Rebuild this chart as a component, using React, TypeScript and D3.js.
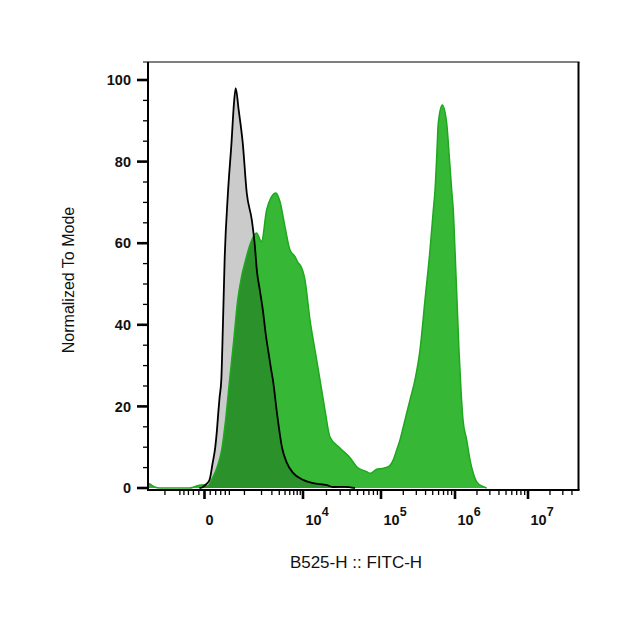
import React from "react";
import * as d3 from "d3";

// ---------- data (fluorescence intensity, % of mode) ----------
const controlX = [-88, -35, 35, 88, 142, 192, 223, 250, 277, 312, 347, 385, 464, 557, 629, 681, 780, 930, 1102, 1355, 1530, 1659, 1870, 2107, 2371, 2670, 2888, 3124, 3654, 4437, 5391, 6817, 10000, 13430, 20300, 24250, 34550, 46400];
const controlY = [0, 0.2, 1, 2, 6, 10, 14, 18.4, 22.3, 26.5, 40, 55.9, 72.3, 84.6, 94.4, 98, 92.6, 84.6, 72.3, 65.7, 59.5, 53.4, 48.5, 43.6, 37.5, 32.6, 29.4, 26.5, 18.4, 10, 6.1, 3.7, 2, 1.2, 0.7, 0.25, 0.3, 0];

const stainedX = [-2000, -1870, -1530, -1248, -277, -179, -88, 0, 52, 142, 236, 319, 408, 507, 619, 746, 890, 1056, 1248, 1355, 1639, 2001, 2437, 2888, 3511, 4105, 4990, 6060, 7360, 8360, 8930, 10600, 12290, 14250, 16520, 19150, 22180, 29760, 40070, 48800, 65550, 72300, 88100, 102200, 125500, 146500, 162800, 180600, 211000, 246500, 287800, 336300, 393300, 459200, 509300, 537000, 566200, 594300, 673200, 772600, 837500, 902000, 948000, 1000000, 1065000, 1134000, 1208000, 1287000, 1445000, 1605000, 1781000, 1981000, 2441000, 2716000];
const stainedY = [1.2, 1.0, 0.25, 0, 0, 0.3, 0.7, 0.8, 0.5, 2.5, 5.4, 9.3, 16.7, 26.5, 36, 46, 52, 56, 59.5, 60.8, 62.5, 60.4, 68.1, 71.1, 72.3, 70.2, 64.0, 58.3, 56.7, 55.1, 54.7, 51, 41.2, 33.8, 26.5, 19.1, 12.5, 9.8, 7.4, 5.2, 4.0, 3.6, 4.6, 4.8, 5.2, 6.9, 9.3, 11.8, 16.7, 21.6, 26.5, 33.8, 46.1, 58.3, 68.1, 73.0, 81.2, 89.4, 93.9, 89.4, 81.2, 73.0, 68.1, 58.3, 46.1, 33.8, 24.0, 16.7, 11.8, 6.9, 3.6, 1.5, 0.3, 0];

const xMajorTicks = [0, 1e4, 1e5, 1e6, 1e7];
const xMajorExp = ["0", "4", "5", "6", "7"];
const xMinorTicks = [
  -1000, -500, -400, -300, -200, -100, 100, 200, 300, 400, 500,
  1000, 2000, 3000, 4000, 5000, 6000, 7000, 8000, 9000,
  2e4, 3e4, 4e4, 5e4, 6e4, 7e4, 8e4, 9e4,
  2e5, 3e5, 4e5, 5e5, 6e5, 7e5, 8e5, 9e5,
  2e6, 3e6, 4e6, 5e6, 6e6, 7e6, 8e6, 9e6,
  2e7, 3e7, 4e7,
];
const yMajorTicks = [0, 20, 40, 60, 80, 100];
const yMinorTicks = [5, 10, 15, 25, 30, 35, 45, 50, 55, 65, 70, 75, 85, 90, 95];

const xAxisTitle = "B525-H :: FITC-H";
const yAxisTitle = "Normalized To Mode";

// ---------- layout ----------
const W = 640;
const H = 630;
const left = 148;
const right = 578.5;
const top = 62;
const bottom = 490;
const FONT = "'Liberation Sans', Arial, Helvetica, sans-serif";

// biexponential-like display transform, anchored at decades
const W_LIN = 450;
const tf = (v: number) => Math.asinh(v / W_LIN);
const xBase = d3
  .scaleLinear()
  .domain([-2000, 0, 1e4, 1e5, 1e6, 1e7].map(tf))
  .range([left, 204.5, 303, 381, 455, 528]);
const xs = (v: number) => xBase(tf(v));
const ys = d3.scaleLinear().domain([0, 100]).range([488, 80]);

type P = [number, number];
const control: P[] = controlX.map((v, i) => [v, controlY[i]]);
const stained: P[] = stainedX.map((v, i) => [v, stainedY[i]]);

const area = d3
  .area<P>()
  .x((d) => xs(d[0]))
  .y0(ys(0))
  .y1((d) => ys(d[1]))
  .curve(d3.curveMonotoneX);
const line = d3
  .line<P>()
  .x((d) => xs(d[0]))
  .y((d) => ys(d[1]))
  .curve(d3.curveMonotoneX);

const GREEN_FILL = "#36b836";
const GREEN_STROKE = "#1ea81e";
const GRAY_FILL = "#cbcbcb";

export default function App() {
  return (
    <svg
      width={W}
      height={H}
      style={{ position: "absolute", left: 0, top: 0, display: "block", background: "#fff" }}
      fontFamily={FONT}
    >
      <defs>
        <clipPath id="plotClip">
          <rect x={left} y={top} width={right - left} height={bottom - top} />
        </clipPath>
      </defs>
      <rect x={0} y={0} width={W} height={H} fill="#fff" />
      <g clipPath="url(#plotClip)">
        <path d={area(stained) || ""} fill={GREEN_FILL} />
        <path d={area(control) || ""} fill={GRAY_FILL} style={{ mixBlendMode: "multiply" }} />
        <path d={line(stained) || ""} fill="none" stroke={GREEN_STROKE} strokeWidth={1.5} />
        <path d={line(control) || ""} fill="none" stroke="#000" strokeWidth={1.8} strokeLinejoin="round" />
      </g>

      {/* frame */}
      <line x1={143} x2={right + 1} y1={top} y2={top} stroke="#000" strokeWidth={1.2} />
      <line x1={right} x2={right} y1={top} y2={bottom} stroke="#000" strokeWidth={2} />
      <line x1={left} x2={left} y1={top} y2={bottom + 1} stroke="#000" strokeWidth={2} />
      <line x1={left - 1} x2={right + 1} y1={bottom} y2={bottom} stroke="#000" strokeWidth={2} />

      {/* y ticks */}
      {yMinorTicks.map((t) => (
        <line key={"ym" + t} x1={left - 5} x2={left} y1={ys(t)} y2={ys(t)} stroke="#000" strokeWidth={1.3} />
      ))}
      {yMajorTicks.map((t) => (
        <g key={"yM" + t}>
          <line x1={left - 11} x2={left} y1={ys(t)} y2={ys(t)} stroke="#000" strokeWidth={2.6} />
          <text x={131} y={ys(t)} dy="0.36em" textAnchor="end" fontSize={14.5} fontWeight="bold" fill="#111">
            {t}
          </text>
        </g>
      ))}

      {/* x ticks */}
      {xMinorTicks.map((t) => (
        <line key={"xm" + t} x1={xs(t)} x2={xs(t)} y1={bottom} y2={bottom + 5} stroke="#000" strokeWidth={1.3} />
      ))}
      {xMajorTicks.map((t, i) => (
        <g key={"xM" + t}>
          <line x1={xs(t)} x2={xs(t)} y1={bottom} y2={bottom + 9} stroke="#000" strokeWidth={2.6} />
          {t === 0 ? (
            <text x={xs(t) + 1} y={525} fontSize={14.5} fontWeight="bold" fill="#111">
              0
            </text>
          ) : (
            <text x={xs(t) + 2.5} y={525} fontSize={14.5} fontWeight="bold" fill="#111">
              10
              <tspan dy={-9} fontSize={12.5}>
                {xMajorExp[i]}
              </tspan>
            </text>
          )}
        </g>
      ))}

      {/* axis titles */}
      <text x={356} y={568} textAnchor="middle" fontSize={17} fill="#111">
        {xAxisTitle}
      </text>
      <text
        transform={`translate(73.5, 280) rotate(-90)`}
        textAnchor="middle"
        fontSize={16}
        fill="#111"
      >
        {yAxisTitle}
      </text>
    </svg>
  );
}
